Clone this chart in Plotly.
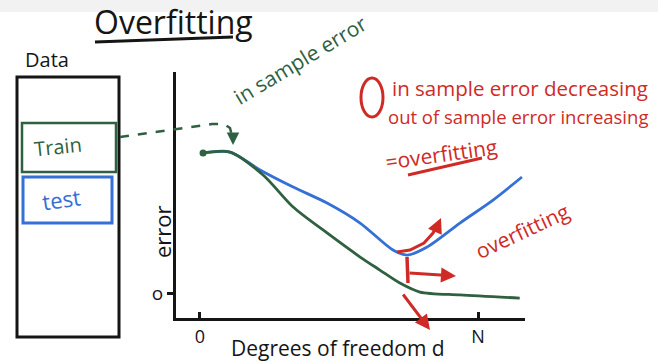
import plotly.graph_objects as go

W, H = 658, 364

# ---- data ----
degrees_in = [0.11, 1.08, 2.27, 3.35, 4.57, 5.76, 6.47, 7.19, 7.91, 9.35, 11.5]
in_sample_error = [10.0, 10.07, 8.43, 6.14, 4.29, 2.57, 1.64, 0.71, 0.07, -0.14, -0.36]
degrees_out = [0.11, 1.08, 2.16, 3.35, 4.57, 5.76, 6.94, 7.45, 8.17, 9.35, 10.54, 11.58]
out_sample_error = [10.0, 10.07, 8.79, 7.57, 6.43, 5.0, 3.07, 2.71, 3.29, 5.0, 6.64, 8.29]
x_tick_vals = [0, 10]
x_tick_text = ["0", "N"]
y_tick_vals = [0]
y_tick_text = ["o"]

GREEN = "#2f6040"
BLUE = "#3470d6"
RED = "#d02a26"
BLACK = "#151515"
FONT = "Open Sans"


def px(x):
    return x / W


def py(y):
    return 1 - y / H


def path(points):
    s = "M {} {}".format(px(points[0][0]), py(points[0][1]))
    for p in points[1:]:
        s += " L {} {}".format(px(p[0]), py(p[1]))
    return s


fig = go.Figure()
fig.add_trace(go.Scatter(x=degrees_out, y=out_sample_error, mode="lines",
                         line=dict(color=BLUE, width=2.8, shape="spline", smoothing=0.8),
                         name="out of sample error", showlegend=False))
fig.add_trace(go.Scatter(x=degrees_in, y=in_sample_error, mode="lines",
                         line=dict(color=GREEN, width=2.8, shape="spline", smoothing=0.8),
                         name="in sample error", showlegend=False))
fig.add_trace(go.Scatter(x=degrees_in[:1], y=in_sample_error[:1], mode="markers",
                         marker=dict(color=GREEN, size=7), showlegend=False))

shapes = []
# top video strip
shapes.append(dict(type="rect", xref="paper", yref="paper", x0=0, x1=1, y0=py(12), y1=1,
                   fillcolor="rgba(0,0,0,0.05)", line=dict(width=0), layer="below"))
# data box
shapes.append(dict(type="rect", xref="paper", yref="paper", x0=px(17), x1=px(119), y0=py(337), y1=py(77),
                   line=dict(color=BLACK, width=3)))
shapes.append(dict(type="rect", xref="paper", yref="paper", x0=px(22), x1=px(116), y0=py(172), y1=py(123),
                   line=dict(color=GREEN, width=2.5)))
shapes.append(dict(type="rect", xref="paper", yref="paper", x0=px(23), x1=px(112), y0=py(223), y1=py(177),
                   line=dict(color=BLUE, width=3)))
# title underline
shapes.append(dict(type="line", xref="paper", yref="paper", x0=px(95), y0=py(42), x1=px(233), y1=py(37),
                   line=dict(color=BLACK, width=3)))
# dashed arrow from Train box
shapes.append(dict(type="path", xref="paper", yref="paper",
                   path=path([(120, 137), (170, 130), (212, 124), (224, 124), (230, 128), (232, 136)]),
                   line=dict(color=GREEN, width=2.5, dash="dash")))
# red circle marker
shapes.append(dict(type="circle", xref="paper", yref="paper", x0=px(361), x1=px(383), y0=py(117), y1=py(78),
                   line=dict(color=RED, width=3)))
# underline of overfitting
shapes.append(dict(type="line", xref="paper", yref="paper", x0=px(408), y0=py(175), x1=px(482), y1=py(158),
                   line=dict(color=RED, width=3)))
# red curved arrow body
shapes.append(dict(type="path", xref="paper", yref="paper",
                   path=path([(397, 252), (410, 250), (424, 243), (433, 233), (438, 224)]),
                   line=dict(color=RED, width=3)))
# red vertical marker
shapes.append(dict(type="line", xref="paper", yref="paper", x0=px(407), y0=py(257), x1=px(408), y1=py(283),
                   line=dict(color=RED, width=3.5)))

annotations = []


def arrow(x, y, ax, ay, color, width=3):
    annotations.append(dict(x=px(x), y=py(y), xref="paper", yref="paper", text="", showarrow=True,
                            ax=ax, ay=ay, arrowhead=2, arrowsize=1, arrowwidth=width, arrowcolor=color))


def label(x, y, text, size, color=BLACK, angle=0, xanchor="center"):
    annotations.append(dict(x=px(x), y=py(y), xref="paper", yref="paper", text=text, showarrow=False,
                            font=dict(family=FONT, size=size, color=color), textangle=angle,
                            xanchor=xanchor, yanchor="middle"))


arrow(233, 145, 0, -10, GREEN, 2.5)
arrow(441, 218, -4, 9, RED)
arrow(456, 276, -48, -3, RED)
arrow(430, 330, -28, -37, RED)

label(173, 21, "Overfitting", 32)
label(47, 60, "Data", 20)
label(58, 146, "Train", 20, GREEN, -6)
label(61, 199, "test", 22, BLUE, -8)
label(300, 60, "in sample error", 21, GREEN, -31)
label(390, 88, "in sample error decreasing", 20.5, RED, 0, "left")
label(386, 117, "out of sample error increasing", 18.5, RED, 0, "left")
label(441, 154, "=overfitting", 21, RED, -8)
label(522, 231, "overfitting", 21, RED, -25)
label(162, 232, "error", 22, BLACK, -90)
label(338, 348, "Degrees of freedom d", 21)

x0, x1 = -0.863, 11.69
y0, y1 = -1.786, 15.79
fig.update_layout(
    width=W, height=H,
    margin=dict(l=0, r=0, t=0, b=0),
    paper_bgcolor="white", plot_bgcolor="white",
    shapes=shapes, annotations=annotations,
    xaxis=dict(domain=[176 / W, 525 / W], range=[x0, x1], showgrid=False, zeroline=False,
               showline=True, linecolor=BLACK, linewidth=3, ticks="inside", ticklen=6,
               tickwidth=2.5, tickcolor=BLACK, tickvals=x_tick_vals, ticktext=x_tick_text,
               tickfont=dict(family=FONT, size=18, color=BLACK), automargin=False),
    yaxis=dict(domain=[1 - 318 / H, 1 - 72 / H], range=[y0, y1], showgrid=False, zeroline=False,
               showline=True, linecolor=BLACK, linewidth=3, ticks="outside", ticklen=6,
               tickwidth=2.5, tickcolor=BLACK, tickvals=y_tick_vals, ticktext=y_tick_text,
               tickfont=dict(family=FONT, size=19, color=BLACK), automargin=False),
)

fig.write_html("out.html", config={"displayModeBar": False},
               post_script="document.body.style.margin='0px';")
